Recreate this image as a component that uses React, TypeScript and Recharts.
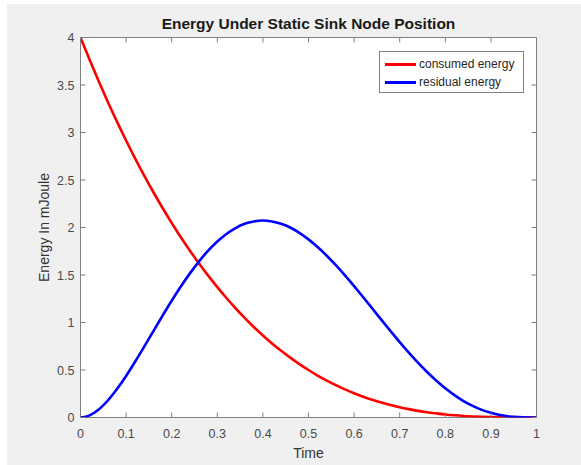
import React from "react";
import { LineChart, Line, XAxis, YAxis, ReferenceArea, Legend, Label } from "recharts";

const timeValues = [0, 0.02, 0.04, 0.06, 0.08, 0.1, 0.12, 0.14, 0.16, 0.18, 0.2, 0.22, 0.24, 0.26, 0.28, 0.3, 0.32, 0.34, 0.36, 0.38, 0.4, 0.42, 0.44, 0.46, 0.48, 0.5, 0.52, 0.54, 0.56, 0.58, 0.6, 0.62, 0.64, 0.66, 0.68, 0.7, 0.72, 0.74, 0.76, 0.78, 0.8, 0.82, 0.84, 0.86, 0.88, 0.9, 0.92, 0.94, 0.96, 0.98, 1];
const consumedEnergy = [4, 3.765, 3.539, 3.322, 3.115, 2.916, 2.726, 2.544, 2.371, 2.205, 2.048, 1.898, 1.756, 1.621, 1.493, 1.372, 1.258, 1.15, 1.049, 0.953, 0.864, 0.78, 0.702, 0.63, 0.562, 0.5, 0.442, 0.389, 0.341, 0.296, 0.256, 0.219, 0.187, 0.157, 0.131, 0.108, 0.088, 0.07, 0.055, 0.043, 0.032, 0.023, 0.016, 0.011, 0.007, 0.004, 0.002, 0.001, 0.0003, 0, 0];
const residualEnergy = [0, 0.023, 0.085, 0.179, 0.299, 0.437, 0.589, 0.748, 0.91, 1.072, 1.229, 1.378, 1.517, 1.644, 1.756, 1.852, 1.932, 1.994, 2.039, 2.064, 2.074, 2.064, 2.039, 2.0, 1.944, 1.875, 1.794, 1.703, 1.603, 1.495, 1.382, 1.266, 1.147, 1.027, 0.909, 0.794, 0.683, 0.577, 0.479, 0.389, 0.307, 0.235, 0.173, 0.122, 0.08, 0.049, 0.026, 0.011, 0.0035, 0.0005, 0];
const xTicks = [0, 0.1, 0.2, 0.3, 0.4, 0.5, 0.6, 0.7, 0.8, 0.9, 1];
const yTicks = [0, 0.5, 1, 1.5, 2, 2.5, 3, 3.5, 4];
const seriesNames = ["consumed energy", "residual energy"];

const data = timeValues.map((t, i) => ({ t, consumed: consumedEnergy[i], residual: residualEnergy[i] }));

const FONT = '"Liberation Sans", Arial, Helvetica, sans-serif';
const W = 574;
const H = 461;
const X_AXIS_H = 30;
const Y_AXIS_W = 60;
const M = { top: 33.5, right: 44.5, bottom: 47.5 - X_AXIS_H, left: 73.5 - Y_AXIS_W };
const PLOT_TOP = 33.5;
const PLOT_RIGHT = W - 44.5;
const PLOT_LEFT = 73.5;
const PLOT_BOTTOM = H - 47.5;
const BOX = "#7f7f7f";
const TICK_LEN = 5;

const XTick = (props: any) => {
  const { x, payload } = props;
  const y = PLOT_BOTTOM;
  return (
    <g>
      <line x1={x} y1={y} x2={x} y2={y - TICK_LEN} stroke={BOX} strokeWidth={1} />
      <line x1={x} y1={PLOT_TOP} x2={x} y2={PLOT_TOP + TICK_LEN} stroke={BOX} strokeWidth={1} />
      <text x={x} y={y + 20} textAnchor="middle" fontSize={12.5} fontFamily={FONT} fill="#4a4a4a">
        {String(payload.value)}
      </text>
    </g>
  );
};

const YTick = (props: any) => {
  const { y, payload } = props;
  const x = PLOT_LEFT;
  return (
    <g>
      <line x1={x} y1={y} x2={x + TICK_LEN} y2={y} stroke={BOX} strokeWidth={1} />
      <line x1={PLOT_RIGHT} y1={y} x2={PLOT_RIGHT - TICK_LEN} y2={y} stroke={BOX} strokeWidth={1} />
      <text x={x - 6} y={y + 4.5} textAnchor="end" fontSize={12.5} fontFamily={FONT} fill="#4a4a4a">
        {String(payload.value)}
      </text>
    </g>
  );
};

const LegendBox = () => {
  const colors = ["#ff0000", "#0000ff"];
  return (
    <div
      style={{
        width: 143,
        height: 40,
        border: `1px solid ${BOX}`,
        background: "#ffffff",
        boxSizing: "content-box",
        fontFamily: FONT,
        fontSize: 12,
        color: "#262626",
      }}
    >
      {seriesNames.map((n, i) => (
        <div key={n} style={{ display: "flex", alignItems: "center", height: 18, marginTop: i === 0 ? 3 : 0 }}>
          <div style={{ width: 31, height: 3, background: colors[i], marginLeft: 5, marginRight: 3 }} />
          <span style={{ whiteSpace: "nowrap" }}>{n}</span>
        </div>
      ))}
    </div>
  );
};

export default function App() {
  return (
    <div style={{ position: "absolute", left: 7, top: 4, width: W, height: H, background: "#f0f0f0" }}>
      <div
        style={{
          position: "absolute",
          left: PLOT_LEFT,
          top: 11,
          width: PLOT_RIGHT - PLOT_LEFT,
          textAlign: "center",
          fontFamily: FONT,
          fontWeight: "bold",
          fontSize: 15.5,
          color: "#1a1a1a",
          lineHeight: "18px",
          zIndex: 2,
        }}
      >
        Energy Under Static Sink Node Position
      </div>
      <LineChart width={W} height={H} data={data} margin={M}>
        <ReferenceArea x1={0} x2={1} y1={0} y2={4} fill="#ffffff" fillOpacity={1} stroke={BOX} strokeWidth={1} ifOverflow="visible" />
        <XAxis
          dataKey="t"
          type="number"
          domain={[0, 1]}
          ticks={xTicks}
          height={X_AXIS_H}
          tickSize={0}
          tickMargin={0}
          tickLine={false}
          axisLine={false}
          tick={(p: any) => <XTick {...p} />}
          interval={0}
          allowDataOverflow
        >
          <Label
            position="bottom"
            content={() => (
              <text x={(PLOT_LEFT + PLOT_RIGHT) / 2} y={PLOT_BOTTOM + 40.5} textAnchor="middle" fontSize={14} fontFamily={FONT} fill="#333333">
                Time
              </text>
            )}
          />
        </XAxis>
        <YAxis
          type="number"
          domain={[0, 4]}
          ticks={yTicks}
          width={Y_AXIS_W}
          tickSize={0}
          tickMargin={0}
          tickLine={false}
          axisLine={false}
          tick={(p: any) => <YTick {...p} />}
          interval={0}
          allowDataOverflow
        >
          <Label
            position="left"
            content={() => {
              const cx = PLOT_LEFT - 31.5;
              const cy = (PLOT_TOP + PLOT_BOTTOM) / 2;
              return (
                <text x={cx} y={cy} textAnchor="middle" fontSize={14} fontFamily={FONT} fill="#333333" transform={`rotate(-90 ${cx} ${cy})`}>
                  Energy In mJoule
                </text>
              );
            }}
          />
        </YAxis>
        <Legend
          layout="vertical"
          align="center"
          verticalAlign="middle"
          content={<LegendBox />}
          wrapperStyle={{ top: 47, left: 372, width: 145, height: 42 }}
        />
        <Line type="monotone" dataKey="consumed" name={seriesNames[0]} stroke="#ff0000" strokeWidth={2.6} dot={false} isAnimationActive={false} />
        <Line type="monotone" dataKey="residual" name={seriesNames[1]} stroke="#0000ff" strokeWidth={2.6} dot={false} isAnimationActive={false} />
      </LineChart>
    </div>
  );
}
